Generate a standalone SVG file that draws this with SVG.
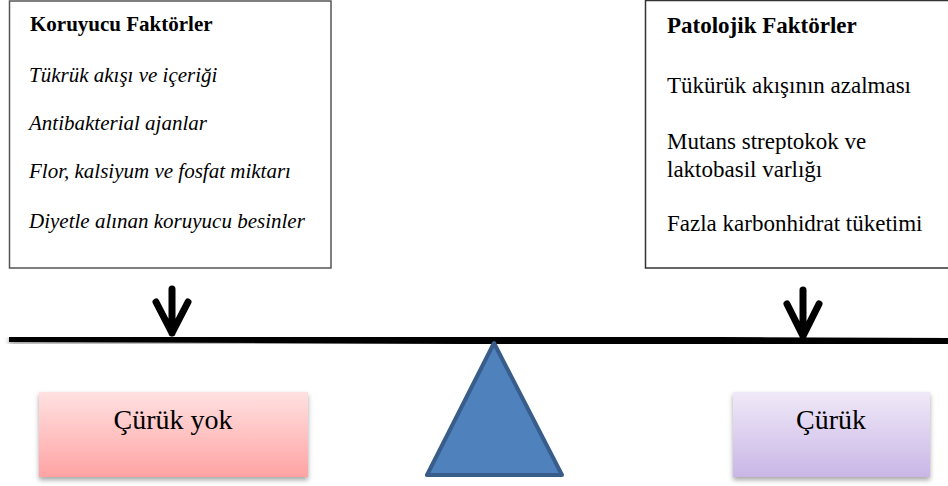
<svg xmlns="http://www.w3.org/2000/svg" width="948" height="486" viewBox="0 0 948 486">
<defs>
<linearGradient id="gPink" x1="0" y1="0" x2="0" y2="1">
<stop offset="0" stop-color="#FFE1E1"/>
<stop offset="1" stop-color="#FFA3A3"/>
</linearGradient>
<linearGradient id="gPurple" x1="0" y1="0" x2="0" y2="1">
<stop offset="0" stop-color="#F0E9F8"/>
<stop offset="1" stop-color="#C9B6E6"/>
</linearGradient>
<filter id="shadow" x="-10%" y="-20%" width="120%" height="150%">
<feDropShadow dx="0" dy="3" stdDeviation="2.5" flood-color="#000" flood-opacity="0.35"/>
</filter>
</defs>
<style>
.box{fill:#fff;stroke-width:1.5}
.t{font-family:"Liberation Serif","Times New Roman",serif;fill:#000}
.title{font-weight:bold}
.arr{fill:none;stroke:#000;stroke-width:7;stroke-linecap:round;stroke-linejoin:round}
</style>
<g id="protective">
<rect class="box" x="9.5" y="1" width="321.5" height="267" stroke="#555"/>
<text class="t title" x="30" y="31" font-size="21">Koruyucu Faktörler</text>
<g class="t" font-size="21" font-style="italic">
<text x="29" y="82">Tükrük akışı ve içeriği</text>
<text x="29" y="130">Antibakterial ajanlar</text>
<text x="29" y="178">Flor, kalsiyum ve fosfat miktarı</text>
<text x="29" y="228">Diyetle alınan koruyucu besinler</text>
</g>
</g>
<g id="pathologic">
<rect class="box" x="645.5" y="0.5" width="310" height="267.5" stroke="#333"/>
<text class="t title" x="667" y="33" font-size="23">Patolojik Faktörler</text>
<g class="t" font-size="23">
<text x="667" y="93">Tükürük akışının azalması</text>
<text x="667" y="149">Mutans streptokok ve</text>
<text x="667" y="177">laktobasil varlığı</text>
<text x="667" y="231">Fazla karbonhidrat tüketimi</text>
</g>
</g>
<g id="beam">
<line x1="9" y1="338" x2="948" y2="342" stroke="#000" stroke-width="8" filter="url(#shadow)"/>
</g>
<g id="fulcrum">
<polygon points="494,343 427,475 562,475" fill="#4F81BD" stroke="#385D8A" stroke-width="4" stroke-linejoin="round"/>
</g>
<g id="no-caries">
<rect x="39" y="392" width="269" height="85" fill="url(#gPink)" filter="url(#shadow)"/>
<text class="t" x="173" y="429" font-size="28" text-anchor="middle">Çürük yok</text>
</g>
<g id="caries">
<rect x="733" y="392" width="197" height="85" fill="url(#gPurple)" filter="url(#shadow)"/>
<text class="t" x="831" y="429" font-size="28" text-anchor="middle">Çürük</text>
</g>
<g id="connectors">
<path class="arr" d="M172,289 V333 M156,302 L172,333 L188,302"/>
<path class="arr" d="M803,290 V336 M787,304 L803,336 L819,304"/>
</g>
</svg>
